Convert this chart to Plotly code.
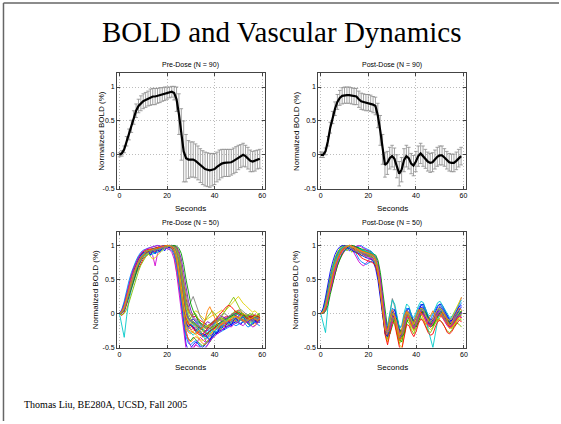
import plotly.graph_objects as go

W, H = 561, 424

seconds = list(range(60))

# Top panels: group mean and error (values x100)
pre_mean = [0, 2, 8, 20, 30, 42, 55, 65, 72, 76,
            79, 81, 83, 85, 86, 86, 87, 88, 89, 90,
            91, 92, 93, 91, 82, 60, 30, 5, -5, -7,
            -7, -7, -9, -12, -16, -19, -21, -22, -23, -22,
            -21, -18, -15, -13, -12, -12, -12, -11, -9, -7,
            -4, -2, 0, -2, -5, -9, -10, -9, -7, -6]
pre_err = [3, 4, 5, 7, 8, 9, 10, 10, 10, 11,
           11, 11, 11, 12, 12, 12, 11, 11, 10, 10,
           9, 8, 8, 10, 18, 30, 38, 45, 35, 28,
           26, 26, 25, 25, 25, 25, 25, 25, 25, 24,
           23, 22, 22, 21, 20, 20, 20, 19, 19, 19,
           18, 17, 17, 16, 16, 16, 15, 15, 14, 14]

post_mean = [0, 0, 5, 20, 40, 55, 68, 78, 84, 87,
             88, 88, 88, 87, 86, 86, 82, 79, 78, 77,
             77, 76, 74, 72, 58, 36, 8, -15, -12, -5,
             -2, -6, -17, -28, -22, -8, -2, -5, -13, -16,
             -10, -2, 2, -2, -6, -10, -12, -11, -7, -3,
             -1, -1, -4, -8, -11, -12, -12, -9, -5, -2]
post_err = [4, 4, 5, 7, 8, 9, 10, 11, 11, 12,
            12, 12, 12, 12, 12, 12, 12, 12, 12, 12,
            12, 12, 12, 13, 18, 22, 22, 18, 17, 16,
            16, 16, 17, 18, 18, 17, 16, 16, 15, 15,
            15, 15, 15, 15, 14, 14, 14, 14, 14, 14,
            14, 14, 13, 13, 13, 13, 13, 13, 13, 13]

# Bottom panels: individual normalized curves (values x100)
pre_traces = [
    [0, 2, 8, 22, 35, 47, 58, 68, 76, 82, 86, 88, 90, 91, 92, 93, 94, 95, 96, 97, 98, 99, 100, 97, 88, 68, 42, 15, -5, -12,
     -10, -8, -12, -16, -20, -24, -26, -25, -27, -24, -20, -18, -15, -14, -12, -13, -11, -9, -7, -5, -3, -1, 0, -3, -6, -10, -11, -9, -7, -6],
    [0, 5, 15, 30, 44, 56, 67, 76, 83, 88, 91, 93, 92, 94, 95, 93, 96, 97, 98, 99, 100, 99, 98, 92, 78, 52, 20, -12, -30, -38,
     -40, -35, -38, -42, -45, -48, -44, -40, -42, -36, -30, -28, -25, -22, -18, -20, -16, -12, -10, -8, -6, -10, -8, -12, -15, -18, -14, -10, -12, -8],
    [0, -3, 2, 12, 24, 36, 48, 58, 66, 74, 80, 84, 87, 89, 90, 91, 92, 94, 95, 96, 97, 98, 99, 100, 97, 88, 70, 45, 22, 5,
     -2, -5, -4, -8, -10, -12, -15, -18, -16, -14, -12, -10, -8, -10, -6, -4, -5, -2, 0, 3, 5, 2, 0, -2, -5, -3, -6, -8, -5, -4],
    [0, -20, -35, -5, 20, 35, 48, 60, 70, 78, 84, 86, 88, 85, 90, 88, 91, 93, 92, 95, 96, 98, 100, 96, 86, 64, 38, 10, -10, -18,
     -15, -12, -18, -22, -28, -30, -33, -35, -30, -28, -25, -22, -20, -18, -16, -20, -17, -14, -12, -15, -12, -10, -8, -11, -14, -12, -10, -13, -9, -10],
    [0, 3, 10, 25, 38, 50, 60, 70, 78, 84, 88, 92, 95, 90, 85, 70, 88, 94, 97, 99, 100, 98, 99, 95, 84, 60, 30, 0, -25, -40,
     -48, -52, -45, -40, -35, -38, -42, -30, -25, -22, -20, -24, -18, -15, -12, -14, -10, -8, -12, -6, -4, -8, -10, -6, -4, -8, -12, -10, -6, -8],
    [0, 2, 6, 18, 30, 42, 54, 64, 73, 80, 85, 89, 92, 94, 95, 96, 96, 97, 98, 99, 100, 100, 99, 96, 90, 76, 55, 30, 12, 2,
     -2, 0, 4, 2, -3, -6, -10, -8, -5, -3, -2, 0, 3, 5, 2, 6, 10, 14, 18, 22, 25, 20, 15, 12, 8, 5, 2, 4, 0, -2],
    [0, 1, 7, 20, 33, 46, 57, 67, 75, 81, 86, 89, 91, 93, 94, 95, 95, 96, 97, 98, 99, 100, 100, 98, 93, 80, 58, 34, 15, 10,
     18, 25, 15, 5, -5, -10, -14, -18, -16, -12, -10, -6, -4, -2, 0, -2, -5, -3, -1, 2, 4, 6, 3, 0, -4, -6, -8, -5, -3, -4],
    [0, 3, 12, 26, 40, 52, 63, 72, 80, 86, 90, 92, 93, 95, 96, 97, 98, 99, 100, 99, 98, 97, 95, 85, 65, 40, 15, -8, -22, -28,
     -30, -26, -24, -28, -32, -35, -30, -28, -32, -27, -22, -20, -24, -20, -16, -14, -18, -14, -10, -12, -10, -8, -12, -14, -10, -8, -11, -15, -12, -9],
    [0, 0, 4, 14, 26, 38, 50, 61, 70, 78, 84, 88, 90, 92, 93, 94, 95, 96, 96, 97, 98, 99, 100, 100, 98, 92, 80, 60, 38, 18,
     5, -5, -8, -12, -14, -18, -22, -20, -18, -16, -14, -12, -10, -12, -8, -6, -4, -6, -2, 0, -2, -4, -2, -6, -8, -6, -4, -2, -5, -6],
    [0, 4, 11, 24, 37, 49, 60, 70, 78, 84, 88, 90, 91, 92, 93, 92, 94, 95, 96, 98, 99, 100, 99, 94, 82, 60, 32, 6, -14, -22,
     -20, -18, -22, -26, -30, -32, -34, -36, -33, -30, -28, -26, -22, -20, -18, -16, -14, -12, -14, -10, -8, -6, -9, -12, -10, -8, -12, -10, -8, -12],
    [0, 2, 9, 23, 36, 48, 59, 68, 76, 82, 87, 90, 92, 93, 94, 95, 96, 97, 98, 99, 100, 99, 100, 97, 87, 66, 40, 14, -4, -10,
     -6, -2, 0, -8, -14, -18, -10, -5, 0, 4, 0, -6, -10, -4, 2, 8, 14, 20, 24, 18, 10, 4, -2, -6, -10, -4, 0, -6, -10, -8],
    [0, 3, 10, 24, 38, 50, 61, 71, 79, 85, 89, 91, 93, 94, 95, 96, 97, 98, 99, 100, 99, 98, 96, 90, 75, 48, 15, -20, -45, -55,
     -50, -46, -42, -44, -48, -50, -46, -42, -38, -34, -30, -28, -26, -24, -22, -20, -18, -16, -14, -12, -14, -16, -12, -10, -14, -18, -16, -12, -10, -14],
    [0, 1, 5, 16, 28, 40, 52, 62, 71, 78, 83, 87, 90, 92, 93, 94, 96, 97, 98, 99, 100, 100, 99, 97, 90, 74, 50, 24, 6, -6,
     -12, -14, -16, -20, -22, -25, -28, -30, -26, -22, -20, -18, -16, -14, -10, -8, -10, -6, -4, -2, 0, -3, -6, -4, -2, -5, -8, -6, -4, -3],
    [0, 4, 13, 28, 42, 54, 65, 74, 81, 87, 91, 93, 94, 95, 94, 96, 97, 96, 98, 99, 100, 99, 98, 94, 84, 62, 36, 10, -8, -16,
     -18, -20, -24, -28, -26, -30, -34, -30, -26, -24, -22, -18, -20, -16, -14, -16, -12, -10, -8, -10, -6, -8, -12, -10, -6, -4, -8, -10, -12, -8],
    [0, 2, 8, 21, 34, 46, 57, 66, 74, 80, 84, 86, 87, 86, 88, 89, 90, 92, 94, 96, 98, 100, 99, 96, 88, 70, 46, 20, 0, -12,
     -16, -18, -14, -12, -16, -22, -26, -28, -24, -20, -16, -12, -10, -8, -10, -12, -8, -4, -2, 0, -2, -4, -6, -8, -12, -14, -12, -8, -6, -4],
    [0, 3, 9, 22, 35, 47, 58, 68, 76, 82, 86, 89, 91, 92, 93, 94, 95, 96, 97, 98, 99, 100, 99, 96, 86, 64, 36, 8, -12, -20,
     -24, -22, -20, -22, -26, -30, -28, -24, -22, -20, -18, -16, -14, -16, -18, -16, -14, -12, -10, -8, -6, -4, -2, -4, -6, -10, -12, -14, -10, -8],
    [0, 2, 7, 19, 31, 44, 55, 65, 74, 81, 86, 89, 91, 93, 94, 95, 96, 97, 98, 99, 100, 99, 98, 95, 86, 66, 40, 12, -8, -18,
     -24, -28, -30, -34, -38, -40, -38, -34, -30, -28, -24, -20, -18, -14, -12, -10, -8, -10, -12, -8, -6, -4, -8, -10, -14, -12, -16, -18, -14, -10],
    [0, 1, 6, 17, 30, 42, 54, 64, 73, 80, 85, 88, 90, 92, 93, 94, 95, 96, 97, 98, 99, 100, 100, 99, 96, 88, 72, 50, 28, 10,
     -2, -8, -10, -14, -16, -18, -20, -22, -20, -18, -14, -12, -10, -8, -6, -8, -6, -4, -6, -2, 0, -2, -4, -6, -4, -2, -4, -6, -8, -6],
    [0, 4, 12, 27, 41, 53, 64, 73, 81, 86, 90, 92, 93, 94, 93, 95, 96, 97, 98, 99, 100, 99, 97, 92, 78, 54, 24, -6, -28, -38,
     -42, -38, -34, -36, -40, -44, -46, -42, -36, -30, -26, -22, -20, -18, -20, -16, -12, -10, -8, -12, -10, -6, -4, -8, -12, -10, -6, -8, -10, -6],
    [0, 2, 8, 20, 33, 45, 56, 66, 74, 80, 85, 88, 90, 92, 93, 94, 95, 96, 97, 98, 99, 100, 99, 96, 87, 68, 44, 18, 0, -8,
     -10, -12, -14, -18, -22, -20, -16, -12, -14, -16, -12, -8, -6, -4, -6, -8, -4, -2, 0, -4, -6, -8, -4, -2, -6, -8, -10, -6, -4, -2],
    [0, 6, 18, 34, 48, 60, 70, 78, 85, 90, 93, 95, 96, 97, 98, 99, 100, 99, 98, 97, 96, 95, 93, 86, 70, 44, 14, -16, -34, -44,
     -46, -42, -40, -44, -50, -54, -50, -46, -40, -36, -32, -30, -28, -26, -24, -22, -20, -18, -16, -18, -16, -14, -12, -16, -20, -18, -14, -12, -16, -18],
    [0, -2, 0, 6, 16, 28, 40, 52, 62, 71, 78, 83, 87, 90, 92, 93, 94, 95, 96, 97, 98, 99, 100, 99, 95, 84, 64, 38, 16, 0,
     -8, -12, -16, -18, -20, -22, -20, -18, -16, -14, -12, -10, -8, -6, -8, -10, -6, -2, 2, 4, 2, 0, -2, -4, -2, 0, -2, -4, -6, -4],
    [0, 3, 11, 25, 38, 51, 62, 72, 80, 86, 90, 88, 93, 86, 92, 88, 95, 90, 97, 92, 99, 96, 100, 94, 82, 58, 30, 4, -14, -20,
     -16, -20, -26, -22, -28, -34, -30, -36, -40, -32, -26, -30, -22, -18, -24, -16, -12, -18, -10, -6, -12, -8, -4, -10, -14, -8, -4, -10, -14, -10],
    [0, 2, 7, 18, 30, 42, 53, 63, 72, 79, 84, 88, 91, 93, 94, 95, 96, 97, 98, 98, 99, 99, 100, 100, 99, 96, 88, 72, 50, 30,
     14, 4, -4, -10, -14, -16, -18, -20, -22, -20, -18, -16, -14, -12, -10, -8, -6, -4, -2, 0, 2, 0, -2, -4, -6, -8, -6, -4, -2, 0],
    [0, 3, 9, 22, 35, 48, 59, 69, 77, 83, 87, 90, 92, 93, 94, 95, 96, 97, 98, 99, 100, 99, 98, 95, 86, 66, 40, 14, -6, -14,
     -18, -22, -26, -30, -32, -30, -26, -22, -18, -14, -10, -6, -2, 2, 6, 10, 12, 10, 6, 2, 0, -2, -4, -6, -8, -6, -4, -2, -4, -6],
    [0, 2, 10, 24, 36, 49, 60, 70, 77, 84, 88, 91, 93, 92, 94, 95, 94, 96, 97, 98, 100, 99, 97, 93, 82, 58, 28, 0, -18, -26,
     -28, -32, -28, -22, -26, -32, -38, -34, -28, -24, -28, -22, -16, -20, -14, -10, -16, -12, -6, -10, -14, -8, -4, -8, -14, -18, -12, -6, -10, -14],
    [0, 4, 12, 28, 42, 55, 66, 75, 82, 88, 92, 94, 96, 97, 98, 99, 100, 99, 98, 97, 96, 94, 90, 80, 60, 32, 0, -30, -52, -60,
     -56, -50, -46, -48, -52, -56, -52, -46, -40, -36, -34, -30, -28, -24, -22, -20, -18, -20, -16, -14, -12, -16, -18, -14, -12, -16, -20, -18, -14, -12],
    [0, 2, 8, 20, 32, 45, 56, 66, 74, 80, 84, 87, 88, 84, 80, 82, 86, 90, 93, 96, 98, 100, 99, 96, 87, 66, 40, 14, -4, -12,
     -14, -16, -20, -24, -28, -26, -22, -18, -20, -22, -18, -14, -10, -8, -10, -12, -10, -6, -4, -6, -8, -4, 0, -2, -6, -8, -6, -4, -2, -4],
    [0, 1, 6, 18, 31, 44, 55, 65, 73, 80, 85, 88, 90, 91, 92, 93, 94, 95, 96, 97, 98, 99, 100, 98, 92, 76, 52, 26, 6, -6,
     -12, -16, -18, -20, -18, -16, -20, -24, -22, -18, -14, -10, -8, -10, -12, -8, -4, -2, 0, -2, -6, -10, -12, -10, -8, -10, -12, -8, -6, -8],
    [0, 3, 10, 24, 37, 49, 60, 69, 77, 83, 87, 90, 92, 93, 94, 95, 96, 97, 98, 99, 100, 99, 97, 92, 80, 56, 28, 2, -16, -24,
     -26, -28, -30, -28, -24, -20, -10, 4, 10, 2, -8, -14, -18, -16, -14, -12, -10, -8, -6, -4, -6, -8, -10, -12, -10, -8, -6, -8, -10, -8],
]

post_traces = [
    [0, 2, 10, 28, 45, 60, 72, 82, 90, 95, 98, 100, 98, 97, 96, 95, 92, 90, 89, 88, 87, 86, 84, 78, 62, 36, 5, -22, -25, -10,
     0, -5, -20, -35, -28, -10, 0, -4, -14, -18, -10, 0, 4, 0, -8, -14, -16, -12, -5, 0, 2, 0, -6, -12, -16, -16, -12, -6, -2, 0],
    [0, 5, 18, 36, 54, 68, 80, 89, 95, 99, 100, 99, 98, 99, 97, 98, 96, 95, 94, 93, 92, 91, 88, 80, 60, 30, -2, -28, -35, -18,
     -4, -2, -18, -38, -42, -20, -4, 2, -10, -22, -16, -4, 6, 8, 0, -12, -20, -18, -8, 2, 6, 4, -4, -14, -20, -18, -10, -2, 4, 2],
    [0, 0, 5, 18, 34, 48, 60, 71, 80, 87, 92, 96, 98, 100, 97, 94, 90, 88, 86, 85, 84, 83, 82, 78, 66, 44, 15, -12, -24, -16,
     -4, 0, -10, -26, -32, -18, -6, -2, -8, -16, -14, -6, 0, 2, -4, -10, -14, -12, -6, -2, 0, -2, -6, -10, -14, -12, -8, -4, 0, 2],
    [0, -15, -28, 10, 38, 55, 68, 79, 88, 94, 97, 99, 100, 98, 96, 94, 91, 89, 87, 86, 85, 84, 82, 76, 60, 34, 4, -24, -30, -14,
     -2, -6, -22, -38, -32, -14, -2, -6, -16, -20, -12, -2, 2, -2, -10, -16, -18, -14, -6, -2, 0, -2, -8, -14, -18, -16, -10, -4, -2, -4],
    [0, 2, 9, 26, 42, 56, 68, 78, 86, 92, 96, 98, 100, 95, 88, 82, 76, 72, 70, 74, 78, 80, 79, 74, 60, 38, 8, -18, -22, -8,
     4, 0, -14, -30, -26, -8, 4, 2, -10, -14, -6, 4, 10, 6, -4, -10, -12, -8, 0, 6, 8, 4, -2, -8, -12, -10, -4, 4, 14, 24],
    [0, 3, 12, 30, 48, 63, 75, 85, 92, 97, 99, 100, 99, 97, 96, 95, 93, 92, 90, 89, 88, 87, 85, 78, 60, 32, 0, -30, -42, -28,
     -10, -12, -28, -46, -50, -30, -12, -10, -20, -26, -18, -8, -2, -4, -12, -20, -24, -20, -12, -6, -4, -6, -12, -18, -22, -20, -16, -10, -6, -8],
    [0, 2, 11, 29, 46, 61, 73, 83, 91, 96, 99, 100, 99, 98, 97, 95, 93, 91, 90, 89, 88, 87, 85, 80, 66, 42, 12, -16, -20, 2,
     22, 10, -12, -30, -24, -6, 6, 0, -12, -16, -8, 2, 8, 4, -6, -12, -14, -10, -2, 4, 6, 2, -4, -10, -14, -12, -8, -2, 2, 0],
    [0, 1, 8, 25, 42, 57, 70, 80, 88, 94, 97, 99, 100, 98, 97, 96, 94, 92, 91, 90, 89, 88, 86, 80, 64, 38, 6, -20, -26, -12,
     -2, -6, -20, -34, -30, -12, -2, -4, -14, -20, -12, -2, 4, 0, -8, -16, -18, -14, -6, -2, 0, -2, -8, -14, -18, -18, -14, -8, -4, -6],
    [0, 2, 9, 26, 43, 58, 70, 80, 88, 94, 97, 99, 100, 99, 98, 96, 94, 92, 90, 89, 88, 88, 87, 84, 74, 54, 24, -6, -22, -18,
     -6, 0, -12, -28, -30, -16, -4, -2, -10, -18, -14, -4, 2, 2, -6, -12, -16, -14, -8, -2, 2, 2, -4, -10, -14, -14, -10, -4, 0, 2],
    [0, 3, 13, 31, 49, 63, 75, 85, 92, 96, 98, 99, 97, 96, 97, 98, 99, 100, 97, 95, 94, 92, 88, 80, 62, 34, 2, -24, -30, -14,
     -2, -4, -18, -34, -30, -12, 0, -2, -12, -18, -10, 0, 6, 4, -4, -12, -14, -10, -4, 2, 4, 2, -4, -10, -14, -14, -10, -4, 0, 4],
    [0, 2, 10, 27, 44, 59, 71, 81, 89, 94, 97, 99, 100, 98, 96, 94, 92, 90, 88, 87, 86, 85, 83, 77, 61, 35, 4, -24, -32, -20,
     -8, -10, -24, -40, -36, -18, -6, -8, -18, -24, -16, -6, 0, -2, -10, -18, -20, -16, -10, -4, -2, -4, -10, -16, -20, -22, -18, -12, -8, -10],
    [0, 4, 14, 33, 50, 64, 76, 86, 93, 97, 100, 96, 92, 95, 90, 92, 88, 91, 86, 88, 84, 86, 82, 76, 58, 30, -2, -26, -28, -10,
     2, -2, -16, -32, -28, -10, 2, 0, -12, -16, -8, 2, 8, 10, 2, -8, -12, -10, -2, 4, 10, 6, 0, -6, -12, -10, -6, 0, 6, 10],
    [0, 1, 7, 24, 41, 56, 69, 79, 87, 93, 96, 98, 99, 100, 99, 97, 95, 93, 91, 90, 89, 88, 86, 81, 66, 40, 10, -18, -26, -14,
     -4, -6, -20, -36, -32, -14, -2, -4, -14, -20, -12, -2, 2, 0, -8, -14, -16, -12, -6, -2, 0, -2, -8, -12, -16, -16, -12, -8, -4, -2],
    [0, 3, 11, 29, 47, 62, 74, 84, 91, 96, 99, 100, 99, 98, 96, 95, 93, 91, 89, 88, 87, 86, 84, 78, 62, 36, 4, -22, -28, -14,
     -4, -8, -22, -38, -34, -16, -4, -6, -16, -22, -14, -4, 2, 0, -8, -16, -18, -14, -8, -2, 0, -4, -10, -16, -20, -18, -14, -8, -4, -6],
    [0, 2, 9, 26, 43, 58, 71, 81, 89, 94, 97, 99, 100, 98, 96, 95, 93, 91, 90, 88, 87, 86, 84, 79, 64, 40, 10, -16, -22, -8,
     2, -2, -16, -32, -28, -10, 0, -2, -12, -18, -10, 0, 4, 2, -10, -24, -38, -50, -30, -10, 0, -2, -8, -12, -16, -14, -10, -6, -2, 0],
    [0, 2, 10, 28, 46, 61, 73, 83, 91, 96, 98, 97, 96, 97, 98, 99, 100, 98, 96, 94, 92, 90, 87, 80, 62, 34, 2, -26, -32, -16,
     -4, -6, -20, -36, -30, -12, 0, -4, -14, -20, -12, -2, 4, 2, -6, -14, -16, -12, -4, 2, 4, 0, -6, -12, -16, -16, -12, -6, -2, 2],
    [0, 1, 8, 24, 40, 55, 68, 78, 87, 93, 97, 99, 100, 99, 97, 95, 93, 91, 89, 88, 87, 86, 85, 80, 66, 42, 12, -16, -24, -12,
     -2, -4, -18, -32, -28, -12, -2, -4, -12, -18, -12, -2, 4, 4, -4, -10, -14, -12, -6, 0, 2, 0, -6, -10, -14, -14, -10, -4, 0, 4],
    [0, 3, 12, 30, 47, 62, 74, 84, 91, 95, 98, 100, 98, 96, 94, 92, 90, 88, 86, 85, 84, 83, 81, 76, 62, 38, 8, -18, -24, -10,
     0, -4, -16, -30, -26, -8, 2, 0, -10, -14, -6, 4, 12, 14, 4, -6, -10, -8, 0, 6, 12, 8, 0, -6, -10, -8, -2, 4, 8, 6],
    [0, 2, 10, 27, 44, 59, 71, 81, 89, 95, 98, 100, 99, 97, 95, 94, 92, 90, 89, 88, 87, 86, 84, 78, 61, 34, 2, -26, -34, -18,
     -6, -8, -22, -40, -36, -16, -4, -6, -16, -22, -14, -4, 0, -2, -10, -16, -18, -14, -8, -4, -2, -4, -10, -16, -22, -20, -14, -8, -4, -2],
    [0, 2, 9, 26, 43, 58, 70, 80, 88, 94, 97, 99, 100, 98, 97, 95, 93, 92, 90, 89, 88, 87, 85, 79, 63, 37, 6, -20, -26, -12,
     -2, -6, -20, -34, -30, -12, -2, -4, -14, -18, -10, -2, 4, 2, -6, -14, -16, -12, -4, 0, 2, 0, -6, -12, -16, -14, -10, -6, -2, 2],
    [0, 3, 8, 22, 38, 52, 64, 74, 82, 88, 92, 95, 97, 100, 94, 86, 80, 76, 74, 72, 74, 76, 78, 72, 58, 40, 14, -10, -20, -6,
     8, 4, -10, -22, -18, -2, 8, 6, -6, -10, -2, 8, 14, 10, 0, -6, -8, -2, 6, 12, 14, 8, 2, -4, -8, -6, 0, 6, 12, 16],
    [0, 6, 20, 40, 56, 70, 82, 90, 96, 100, 97, 92, 96, 90, 94, 88, 92, 84, 88, 82, 86, 80, 78, 70, 54, 28, -6, -30, -38, -22,
     -8, -14, -30, -44, -38, -22, -10, -14, -24, -30, -20, -10, -6, -10, -18, -26, -28, -22, -14, -8, -10, -14, -20, -26, -28, -24, -18, -14, -16, -20],
    [0, 8, 24, 44, 62, 76, 87, 94, 98, 100, 99, 97, 95, 93, 91, 89, 87, 85, 83, 82, 81, 80, 76, 66, 48, 22, -8, -30, -34, -16,
     0, 6, -6, -24, -26, -10, 4, 8, -2, -12, -8, 4, 12, 14, 6, -4, -10, -6, 2, 10, 14, 12, 4, -4, -10, -10, -4, 4, 10, 12],
    [0, 0, 3, 12, 28, 44, 58, 70, 80, 88, 93, 97, 99, 100, 99, 98, 96, 94, 92, 91, 90, 89, 88, 86, 78, 60, 32, 2, -22, -30,
     -18, -6, -8, -20, -34, -30, -14, -4, -6, -14, -20, -12, -2, 4, 2, -6, -14, -18, -12, -4, 2, 2, -4, -10, -14, -16, -12, -6, 0, 4],
    [0, 2, 8, 24, 42, 58, 70, 80, 88, 94, 97, 99, 100, 98, 94, 90, 86, 82, 80, 78, 77, 76, 74, 70, 56, 30, -2, -32, -46, -30,
     -12, -16, -32, -50, -52, -34, -16, -18, -28, -34, -26, -14, -8, -12, -20, -28, -32, -30, -20, -12, -10, -14, -20, -28, -30, -26, -20, -14, -10, -12],
    [0, 4, 14, 32, 50, 65, 77, 86, 93, 97, 99, 100, 99, 98, 97, 96, 95, 94, 93, 92, 91, 90, 88, 82, 66, 40, 8, -18, -18, 4,
     20, 14, -4, -22, -16, 2, 14, 10, -2, -6, 2, 12, 18, 16, 6, -2, -4, 0, 8, 16, 18, 12, 4, -2, -6, -4, 2, 10, 16, 20],
    [0, 1, 6, 20, 36, 52, 65, 76, 85, 91, 95, 98, 100, 99, 98, 96, 93, 90, 87, 84, 82, 81, 80, 77, 68, 50, 20, -10, -28, -24,
     -10, -4, -14, -30, -32, -18, -6, -6, -16, -22, -16, -6, 0, -2, -10, -18, -20, -14, -6, -2, -2, -6, -12, -18, -20, -18, -12, -6, -4, -6],
    [0, 3, 11, 28, 45, 60, 72, 82, 90, 95, 98, 99, 100, 98, 97, 95, 93, 91, 90, 89, 88, 86, 83, 76, 60, 34, 2, -24, -28, -12,
     0, -4, -18, -32, -28, -10, 2, 0, -10, -16, -8, 2, 8, 6, -4, -10, -12, -8, 0, 6, 8, 4, -4, -8, -10, -6, 2, 10, 18, 24],
    [0, 2, 12, 30, 46, 60, 72, 82, 90, 95, 98, 100, 97, 94, 92, 91, 90, 89, 88, 87, 86, 86, 85, 79, 62, 36, 6, -20, -30, -18,
     -6, -8, -22, -36, -32, -14, -2, -2, -12, -20, -14, -2, 6, 6, -2, -10, -14, -12, -6, 0, 2, -2, -8, -14, -18, -16, -10, -4, -2, 0],
    [0, 2, 9, 25, 42, 57, 69, 79, 87, 93, 96, 98, 100, 99, 97, 96, 94, 92, 91, 90, 89, 88, 86, 80, 64, 38, 6, -22, -24, -6,
     6, -4, -24, -34, -22, -4, 4, -8, -18, -12, -2, 6, 0, -8, -16, -10, -2, 4, -4, -12, -6, 2, -2, -10, -18, -14, -4, 2, 8, 4],
]

trace_colors = ["#0000ff", "#00a000", "#ff0000", "#00c8c8", "#d000d0", "#e0d000",
                "#808080", "#ff8000", "#8000c0", "#0080ff", "#80c000"]

panel_titles = ["Pre-Dose (N = 90)", "Post-Dose (N = 90)",
                "Pre-Dose (N = 50)", "Post-Dose (N = 50)"]
x_label = "Seconds"
y_label = "Normalized BOLD (%)"
x_ticks = [0, 20, 40, 60]
y_ticks = [-0.5, 0, 0.5, 1]
y_ticktext = ["-0.5", "0", "0.5", "1"]
main_title = "BOLD and Vascular Dynamics"
footer = "Thomas Liu, BE280A, UCSD, Fall 2005"


def px_x(p):
    return p / W


def px_y(p):
    return 1 - p / H


# panel boxes in pixels: (left, right, top, bottom)
boxes = [(117.5, 265.5, 74, 190), (319.5, 467.5, 74, 190),
         (117.5, 265.5, 233.5, 350), (319.5, 468, 233.5, 350)]
ylabel_x = [101, 297, 96, 297]

fig = go.Figure()
sc = lambda v: [a / 100 for a in v]

# bottom panels: individual curves
for i, traces in enumerate([pre_traces, post_traces]):
    ax = str(i + 3)
    for k, tr in enumerate(traces):
        fig.add_trace(go.Scatter(
            x=seconds, y=sc(tr), mode="lines",
            line=dict(color=trace_colors[k % len(trace_colors)], width=0.9),
            xaxis="x" + ax, yaxis="y" + ax, showlegend=False, hoverinfo="skip"))

# top panels: mean with error bars
for i, (m, e) in enumerate([(pre_mean, pre_err), (post_mean, post_err)]):
    ax = "" if i == 0 else str(i + 1)
    fig.add_trace(go.Scatter(
        x=seconds, y=sc(m), mode="lines",
        line=dict(color="black", width=2.2),
        error_y=dict(type="data", array=sc(e), visible=True,
                     color="#8a8a8a", thickness=0.8, width=1.8),
        xaxis="x" + ax, yaxis="y" + ax, showlegend=False, hoverinfo="skip"))

axis_common = dict(showline=True, linecolor="#444", linewidth=1, mirror="ticks",
                   ticks="inside", ticklen=3, tickcolor="#444",
                   showgrid=True, gridcolor="#bcbcbc", griddash="1px,2px", gridwidth=1,
                   zeroline=False, tickfont=dict(family="Liberation Sans", size=7, color="black"))

layout = dict(width=W, height=H, autosize=False,
              margin=dict(l=0, r=0, t=0, b=0),
              paper_bgcolor="white", plot_bgcolor="white", showlegend=False)

annotations = []
for i, (l, r, t, b) in enumerate(boxes):
    n = "" if i == 0 else str(i + 1)
    layout["xaxis" + n] = dict(axis_common, domain=[px_x(l), px_x(r)], range=[-1, 61],
                               tickvals=x_ticks, anchor="y" + n)
    layout["yaxis" + n] = dict(axis_common, domain=[px_y(b), px_y(t)], range=[-0.5, 1.2],
                               tickvals=y_ticks, ticktext=y_ticktext, anchor="x" + n)
    cx = (l + r) / 2
    annotations.append(dict(text=panel_titles[i], x=px_x(cx), y=px_y(t - 8.5),
                            xref="paper", yref="paper", showarrow=False,
                            xanchor="center", yanchor="middle",
                            font=dict(family="Liberation Sans", size=7, color="black")))
    annotations.append(dict(text=x_label, x=px_x(cx), y=px_y(b + 20),
                            xref="paper", yref="paper", showarrow=False,
                            xanchor="center", yanchor="middle",
                            font=dict(family="Liberation Sans", size=8, color="black")))
    annotations.append(dict(text=y_label, x=px_x(ylabel_x[i]), y=px_y((t + b) / 2),
                            xref="paper", yref="paper", showarrow=False, textangle=-90,
                            xanchor="center", yanchor="middle",
                            font=dict(family="Liberation Sans", size=8, color="black")))

annotations.append(dict(text=main_title, x=px_x(283), y=px_y(32), xref="paper", yref="paper",
                        showarrow=False, xanchor="center", yanchor="middle",
                        font=dict(family="Liberation Serif", size=29, color="black")))
annotations.append(dict(text=footer, x=px_x(22), y=px_y(407), xref="paper", yref="paper",
                        showarrow=False, xanchor="left", yanchor="middle",
                        font=dict(family="Liberation Serif", size=10, color="black")))
layout["annotations"] = annotations

layout["shapes"] = [
    dict(type="line", xref="paper", yref="paper", layer="above",
         x0=px_x(3.5), x1=px_x(561), y0=px_y(3), y1=px_y(3),
         line=dict(color="#666666", width=1.5)),
    dict(type="line", xref="paper", yref="paper", layer="above",
         x0=px_x(3.5), x1=px_x(3.5), y0=px_y(424), y1=px_y(3),
         line=dict(color="#666666", width=1.5)),
]

fig.update_layout(**layout)
fig.write_html("out.html", config={"displayModeBar": False},
               post_script="document.body.style.margin='0';document.body.style.overflow='hidden';")
